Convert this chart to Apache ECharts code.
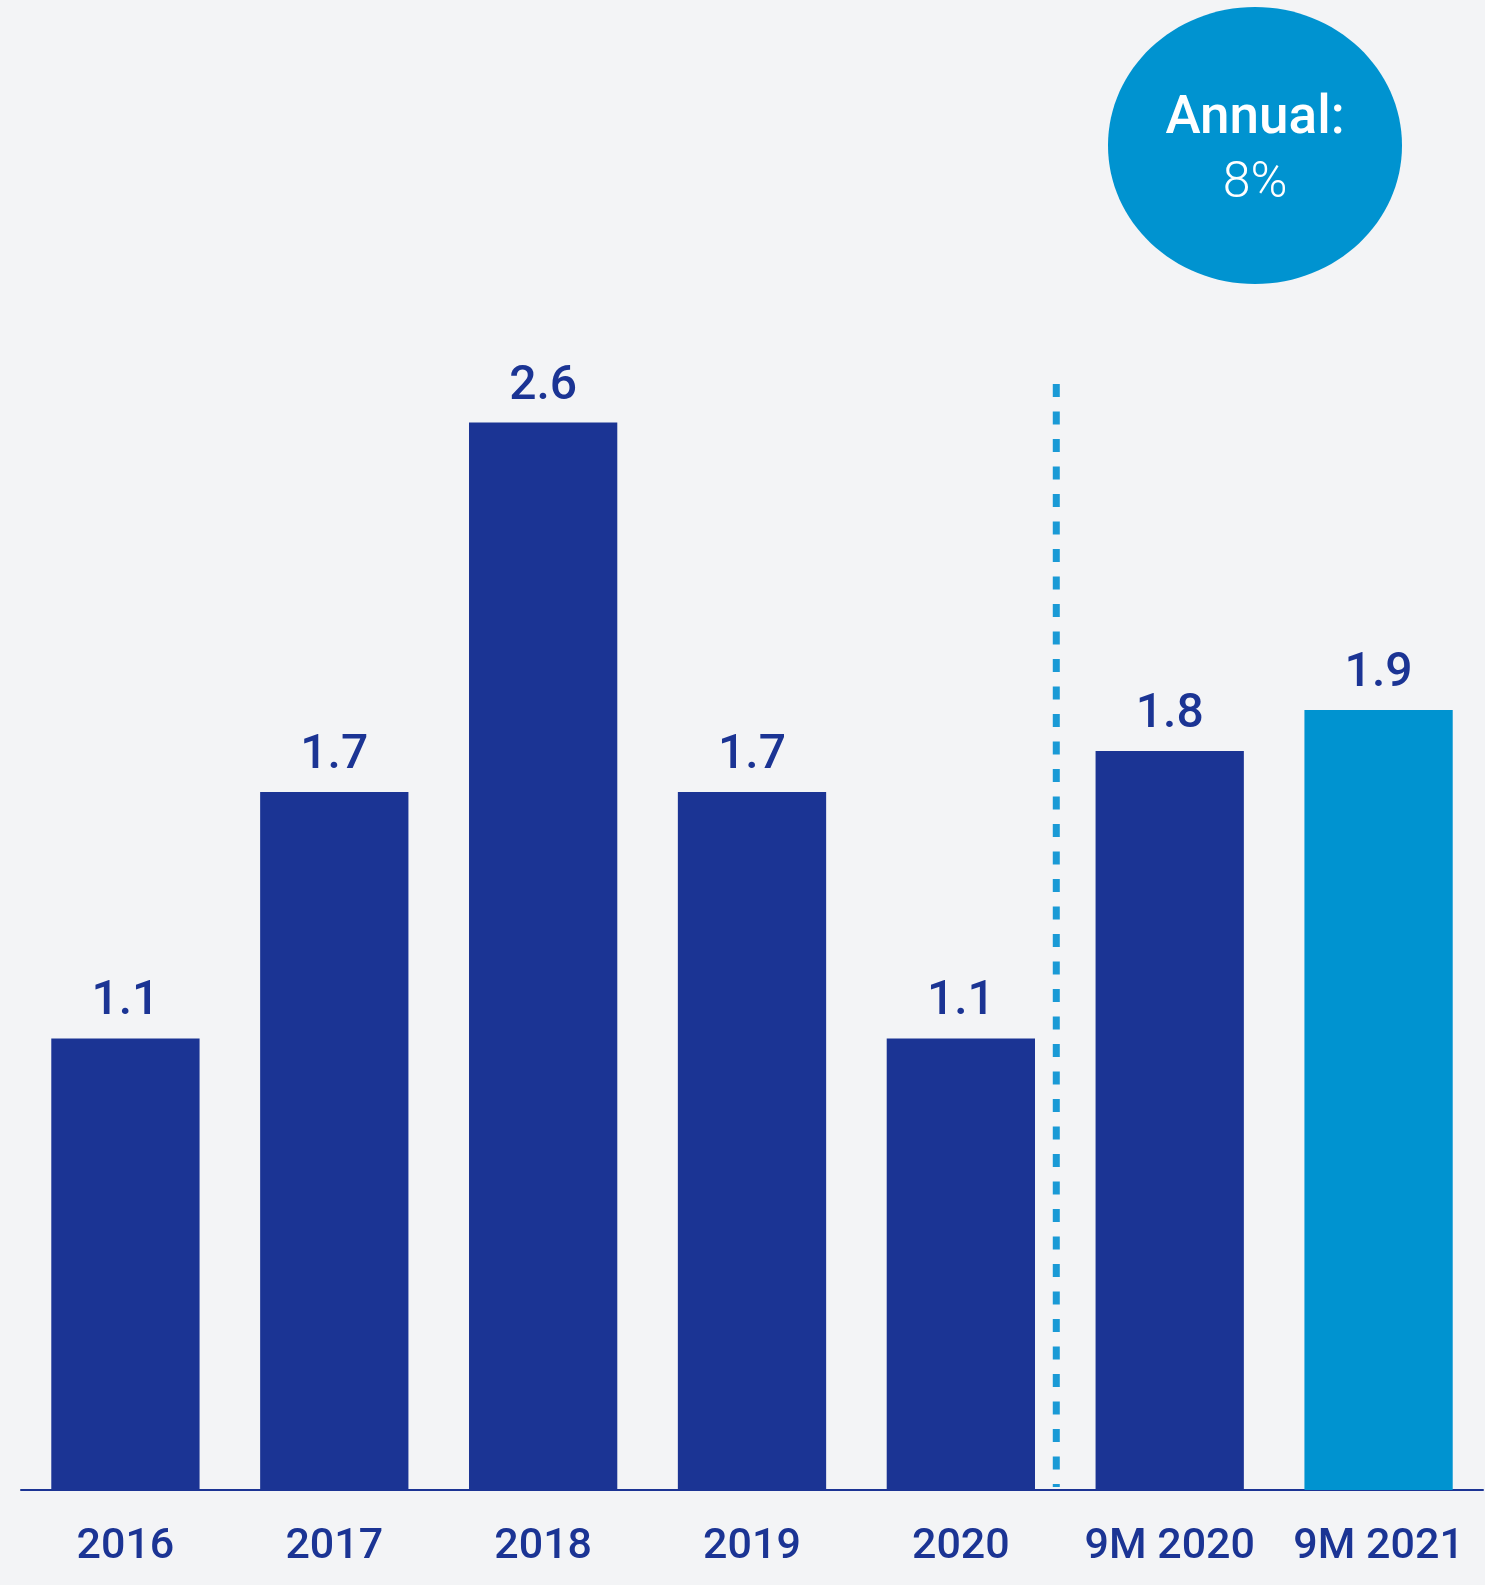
<!DOCTYPE html>
<html>
<head>
<meta charset="utf-8">
<script src="https://cdn.jsdelivr.net/npm/echarts@6/dist/echarts.min.js"></script>
<style>
html,body{margin:0;padding:0;background:#F3F4F6;}
#c{width:1485px;height:1585px;}
</style>
</head>
<body>
<div id="c"></div>
<script>
const categories = ['2016','2017','2018','2019','2020','9M 2020','9M 2021'];
const values = [1.1, 1.7, 2.6, 1.7, 1.1, 1.8, 1.9];
const highlightIndex = 6;
const badgeTitle = 'Annual:';
const badgeValue = '8%';

const DARK = '#1B3494';
const LIGHT = '#0093D0';

const chart = echarts.init(document.getElementById('c'), null, {renderer:'canvas'});
const option = {
  backgroundColor: '#F3F4F6',
  animation: false,
  grid: {left: 21, right: 2, top: 12, bottom: 95},
  xAxis: {
    type: 'category',
    data: categories,
    axisLine: {show: true, lineStyle: {color: DARK, width: 2}},
    axisTick: {show: false},
    axisLabel: {interval: 0, color: DARK, fontFamily: 'Roboto', fontWeight: 500, fontSize: 43, margin: 36}
  },
  yAxis: {
    type: 'value', min: 0, max: 3.6, interval: 0.6,
    show: false, splitLine: {show: false}
  },
  series: [{
    type: 'bar',
    barWidth: '71%',
    data: values.map((v, i) => ({value: v, itemStyle: {color: i === highlightIndex ? LIGHT : DARK}})),
    label: {
      show: true, position: 'top', distance: 12,
      color: DARK, fontFamily: 'Roboto', fontWeight: 500, fontSize: 48,
      formatter: p => p.value.toFixed(1)
    }
  }]
};
chart.setOption(option);

const p4 = chart.convertToPixel({xAxisIndex: 0}, categories[4]);
const p5 = chart.convertToPixel({xAxisIndex: 0}, categories[5]);
const base = chart.convertToPixel({yAxisIndex: 0}, 0);
const lineX = (p4 + p5) / 2 - 9;

chart.setOption({
  graphic: [
    {
      type: 'line',
      shape: {x1: lineX, y1: 384, x2: lineX, y2: base - 3},
      style: {stroke: '#1A9AD6', lineWidth: 7, lineDash: [13, 14.5]}
    },
    {
      type: 'ellipse',
      shape: {cx: 1255, cy: 145.5, rx: 147, ry: 138.5},
      style: {fill: LIGHT}
    },
    {
      type: 'text',
      x: 1255, y: 120,
      style: {text: badgeTitle, fill: '#fff', font: '500 53px Roboto', align: 'center', verticalAlign: 'middle'}
    },
    {
      type: 'text',
      x: 1255, y: 184,
      style: {text: badgeValue, fill: '#fff', font: '300 50px Roboto', align: 'center', verticalAlign: 'middle'}
    }
  ]
});
</script>
</body>
</html>
